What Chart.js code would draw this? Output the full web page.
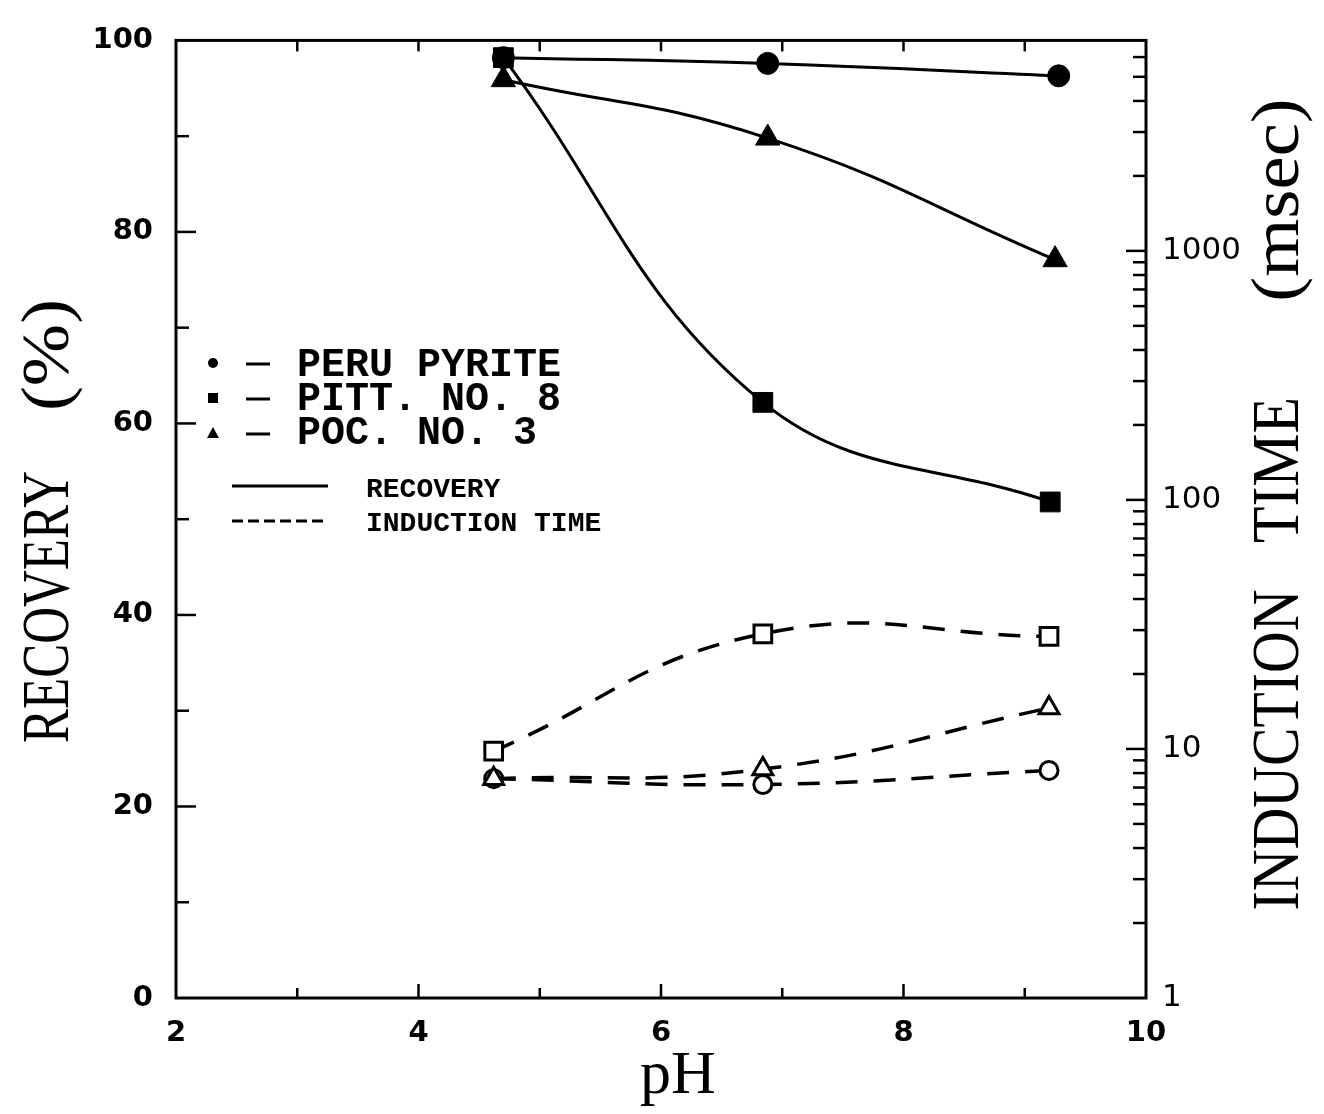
<!DOCTYPE html>
<html>
<head>
<meta charset="utf-8">
<title>Recovery and induction time vs pH</title>
<script src="https://cdn.jsdelivr.net/npm/chart.js@4.4.1/dist/chart.umd.min.js"></script>
<style>
  html, body { margin: 0; padding: 0; background: #fff; }
  #wrap { width: 1324px; height: 1114px; }
</style>
</head>
<body>
<div id="wrap"><canvas id="phChart"></canvas></div>
<script>
// flotation recovery (%), solid lines, left axis
const peruRecoveryPH = [4.7, 6.88, 9.28];
const peruRecovery = [98.2, 97.6, 96.3];
const pittRecoveryPH = [4.7, 6.84, 9.21];
const pittRecovery = [98.2, 62.2, 51.8];
const pocRecoveryPH = [4.7, 6.88, 9.25];
const pocRecovery = [95.9, 89.8, 77.1];

// bubble induction time (msec), dashed lines, right log axis
const inductionPH = [4.62, 6.84, 9.2];
const peruInduction = [7.6, 7.2, 8.2];
const pittInduction = [9.8, 29, 28.3];
const pocInduction = [7.6, 8.3, 14.6];

// axis labels
const phTicks = [2, 4, 6, 8, 10];
const recoveryTicks = [0, 20, 40, 60, 80, 100];
const inductionTicks = [1, 10, 100, 1000];
const inductionMax = 7000;

const toXY = (xs, ys) => xs.map((x, i) => ({ x: x, y: ys[i] }));

const ink = '#000';

function recoverySet(label, xs, ys, style, radius, tension) {
  return {
    label: label,
    data: toXY(xs, ys),
    yAxisID: 'y',
    showLine: true,
    tension: tension,
    borderColor: ink,
    borderWidth: 3,
    pointStyle: style,
    pointRadius: radius,
    pointBackgroundColor: ink,
    pointBorderColor: ink,
    pointBorderWidth: 1
  };
}

function inductionSet(label, ys, style, radius) {
  return {
    label: label,
    data: toXY(inductionPH, ys),
    yAxisID: 'y2',
    showLine: true,
    tension: 0.45,
    borderColor: ink,
    borderWidth: 3.5,
    borderDash: [22, 16],
    pointStyle: style,
    pointRadius: radius,
    pointBackgroundColor: '#fff',
    pointBorderColor: ink,
    pointBorderWidth: 3
  };
}

// frame, inward tick marks, key and axis titles
const frameAndNotes = {
  id: 'frameAndNotes',
  afterDraw(chart) {
    const { ctx, chartArea: a, scales } = chart;
    const line = (x1, y1, x2, y2) => {
      ctx.beginPath(); ctx.moveTo(x1, y1); ctx.lineTo(x2, y2); ctx.stroke();
    };
    ctx.save();
    ctx.strokeStyle = ink;
    ctx.fillStyle = ink;
    ctx.lineWidth = 3;
    ctx.strokeRect(a.left, a.top, a.right - a.left, a.bottom - a.top);

    ctx.lineWidth = 2.5;
    for (let p = 3; p <= 9; p++) {
      const px = scales.x.getPixelForValue(p);
      line(px, a.bottom, px, a.bottom - (p % 2 ? 10 : 14));
      line(px, a.top, px, a.top + 11);
    }
    for (let v = 10; v < 100; v += 10) {
      const py = scales.y.getPixelForValue(v);
      line(a.left, py, a.left + (v % 20 ? 13 : 20), py);
    }
    for (let d = 1; d <= 1000; d *= 10) {
      for (let m = 1; m <= 9; m++) {
        const v = m * d;
        if (v <= 1 || v >= inductionMax) continue;
        const py = scales.y2.getPixelForValue(v);
        line(a.right, py, a.right - (m === 1 ? 20 : 13), py);
      }
    }

    // key
    ctx.lineWidth = 3;
    ctx.beginPath(); ctx.arc(213, 363, 5, 0, Math.PI * 2); ctx.fill();
    ctx.fillRect(208, 393, 10, 10);
    ctx.beginPath(); ctx.moveTo(213, 427); ctx.lineTo(219, 438); ctx.lineTo(207, 438); ctx.closePath(); ctx.fill();
    [364, 399, 434].forEach(y => line(246, y, 270, y));
    ctx.font = 'bold 40px "Liberation Mono"';
    ctx.textAlign = 'left';
    ctx.textBaseline = 'alphabetic';
    ctx.fillText('PERU PYRITE', 297, 376);
    ctx.fillText('PITT. NO. 8', 297, 410);
    ctx.fillText('POC. NO. 3', 297, 444);

    line(232, 486, 328, 486);
    ctx.setLineDash([11, 5]);
    line(232, 521, 328, 521);
    ctx.setLineDash([]);
    ctx.font = 'bold 28px "Liberation Mono"';
    ctx.fillText('RECOVERY', 366, 497);
    ctx.fillText('INDUCTION TIME', 366, 531);

    // rotated axis titles, narrowed like the typeset originals
    const upright = (text, x, y, size, sx) => {
      ctx.save();
      ctx.translate(x, y);
      ctx.rotate(-Math.PI / 2);
      ctx.scale(sx, 1);
      ctx.font = size + 'px "Liberation Serif"';
      ctx.textAlign = 'center';
      ctx.fillText(text, 0, 0);
      ctx.restore();
    };
    upright('RECOVERY', 68, 607, 68, 0.75);
    upright('(%)', 68, 355, 68, 1.1);
    upright('INDUCTION', 1298, 750, 68, 0.85);
    upright('TIME', 1298, 470, 68, 0.88);
    upright('(msec)', 1298, 200, 68, 1.1);

    ctx.font = '62px "Liberation Serif"';
    ctx.textAlign = 'center';
    ctx.fillText('pH', 678, 1093);
    ctx.restore();
  }
};

new Chart(document.getElementById('phChart'), {
  type: 'scatter',
  data: {
    datasets: [
      recoverySet('PITT. NO. 8 recovery', pittRecoveryPH, pittRecovery, 'rect', 14, 0.4),
      recoverySet('POC. NO. 3 recovery', pocRecoveryPH, pocRecovery, 'triangle', 14, 0.45),
      recoverySet('PERU PYRITE recovery', peruRecoveryPH, peruRecovery, 'circle', 11, 0.45),
      inductionSet('PITT. NO. 8 induction time', pittInduction, 'rect', 12.5),
      inductionSet('POC. NO. 3 induction time', pocInduction, 'triangle', 11.5),
      inductionSet('PERU PYRITE induction time', peruInduction, 'circle', 9)
    ]
  },
  options: {
    responsive: true,
    maintainAspectRatio: false,
    animation: false,
    layout: { padding: { top: 30, left: 0, right: 0, bottom: 0 } },
    plugins: {
      legend: { display: false },
      tooltip: { enabled: false }
    },
    scales: {
      x: {
        type: 'linear',
        position: 'bottom',
        min: 2,
        max: 10,
        afterBuildTicks: s => { s.ticks = phTicks.map(v => ({ value: v })); },
        afterFit: s => { s.height = 116; },
        grid: { display: false, drawTicks: false },
        border: { display: false },
        ticks: {
          color: ink,
          padding: 18,
          autoSkip: false,
          maxRotation: 0,
          font: { family: 'DejaVu Sans', weight: 'bold', size: 29 }
        }
      },
      y: {
        type: 'linear',
        position: 'left',
        min: 0,
        max: 100,
        afterBuildTicks: s => { s.ticks = recoveryTicks.map(v => ({ value: v })); },
        afterFit: s => { s.width = 176; },
        grid: { display: false, drawTicks: false },
        border: { display: false },
        ticks: {
          color: ink,
          padding: 23,
          autoSkip: false,
          font: { family: 'DejaVu Sans', weight: 'bold', size: 29 }
        }
      },
      y2: {
        type: 'logarithmic',
        position: 'right',
        min: 1,
        max: inductionMax,
        afterBuildTicks: s => { s.ticks = inductionTicks.map(v => ({ value: v })); },
        afterFit: s => { s.width = 178; },
        grid: { display: false, drawTicks: false },
        border: { display: false },
        ticks: {
          color: ink,
          padding: 16,
          autoSkip: false,
          callback: v => String(v),
          font: { family: 'DejaVu Sans', size: 31 }
        }
      }
    }
  },
  plugins: [frameAndNotes]
});
</script>
</body>
</html>
